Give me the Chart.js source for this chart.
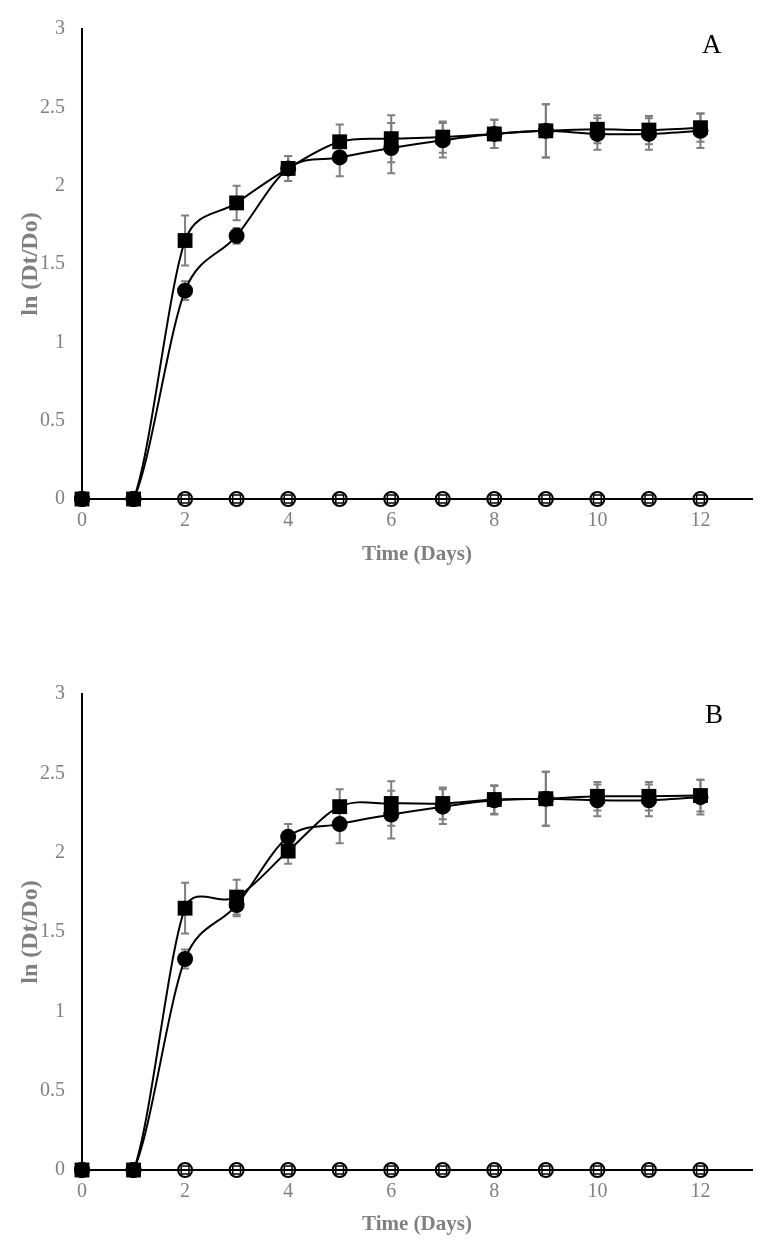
<!DOCTYPE html>
<html lang="en">
<head>
    <meta charset="UTF-8">
    <title>ln (Dt/Do) growth curves</title>
    <script src="https://cdn.jsdelivr.net/npm/chart.js"></script>
    <style>
        body { margin: 0; background: #fff; }
        .panel { position: absolute; left: 0; width: 775px; }
        .tag { position: absolute; font-family: "Liberation Serif", serif; font-size: 27px; color: #000; }
    </style>
</head>
<body>
    <div class="panel" style="top:0; height:600px;">
        <canvas id="chartA"></canvas>
    </div>
    <div class="tag" style="left:702px; top:29px;">A</div>

    <div class="panel" style="top:600px; height:655px;">
        <canvas id="chartB"></canvas>
    </div>
    <div class="tag" style="left:705px; top:699px;">B</div>

    <script>
        // days sampled
        const days = [0, 1, 2, 3, 4, 5, 6, 7, 8, 9, 10, 11, 12];

        // panel A
        const circleA = [0, 0, 1.33, 1.68, 2.11, 2.18, 2.24, 2.29, 2.33, 2.35, 2.33, 2.33, 2.35];
        const squareA = [0, 0, 1.65, 1.89, 2.11, 2.28, 2.30, 2.31, 2.33, 2.35, 2.36, 2.355, 2.37];
        const circleErrA = [0, 0, 0.06, 0.05, 0.08, 0.12, 0.16, 0.11, 0.09, 0.17, 0.10, 0.10, 0.11];
        const squareErrA = [0, 0, 0.16, 0.11, 0.08, 0.11, 0.15, 0.10, 0.09, 0.17, 0.09, 0.09, 0.09];

        // panel B
        const circleB = [0, 0, 1.33, 1.67, 2.10, 2.18, 2.24, 2.29, 2.33, 2.34, 2.33, 2.33, 2.35];
        const squareB = [0, 0, 1.65, 1.72, 2.01, 2.29, 2.31, 2.31, 2.335, 2.34, 2.355, 2.355, 2.36];
        const circleErrB = [0, 0, 0.06, 0.07, 0.08, 0.12, 0.15, 0.11, 0.09, 0.17, 0.10, 0.10, 0.11];
        const squareErrB = [0, 0, 0.16, 0.11, 0.08, 0.11, 0.14, 0.10, 0.09, 0.17, 0.09, 0.09, 0.10];

        // control series, stay at zero
        const openCircle = [0, 0, 0, 0, 0, 0, 0, 0, 0, 0, 0, 0, 0];
        const openSquare = [0, 0, 0, 0, 0, 0, 0, 0, 0, 0, 0, 0, 0];

        const yTicks = [0, 0.5, 1, 1.5, 2, 2.5, 3];
        const xTicks = [0, 2, 4, 6, 8, 10, 12];

        const greyText = '#808080';
        const serif = '"Liberation Serif", "Times New Roman", serif';

        function pts(values) {
            return values.map((v, i) => ({ x: days[i], y: v }));
        }

        // office style smoothing: 1/6 tangents, limited to half the segment length
        const excelSmooth = {
            id: 'excelSmooth',
            beforeDatasetsDraw(chart) {
                const area = chart.chartArea;
                const clampY = y => Math.min(Math.max(y, area.top), area.bottom);
                const dist = (a, b) => Math.hypot(a.x - b.x, a.y - b.y);
                chart.getSortedVisibleDatasetMetas().forEach(meta => {
                    const line = meta.dataset;
                    if (!line) return;
                    line.updateControlPoints(area, 'x');
                    const p = meta.data;
                    for (let i = 0; i < p.length - 1; i++) {
                        const p0 = p[i - 1] || p[i], p1 = p[i], p2 = p[i + 1], p3 = p[i + 2] || p[i + 1];
                        const d12 = dist(p1, p2), d02 = dist(p0, p2), d13 = dist(p1, p3);
                        let f0 = 1 / 6, f1 = 1 / 6;
                        if (d02 / 6 >= d12 / 2) f0 = d02 ? d12 / 2 / d02 : 0;
                        if (d13 / 6 >= d12 / 2) f1 = d13 ? d12 / 2 / d13 : 0;
                        p1.cp2x = p1.x + (p2.x - p0.x) * f0;
                        p1.cp2y = clampY(p1.y + (p2.y - p0.y) * f0);
                        p2.cp1x = p2.x - (p3.x - p1.x) * f1;
                        p2.cp1y = clampY(p2.y - (p3.y - p1.y) * f1);
                    }
                    delete line._path;
                });
            }
        };

        // grey error bars with caps
        const errorBars = {
            id: 'errorBars',
            beforeDatasetsDraw(chart, args, opts) {
                const ctx = chart.ctx;
                const xs = chart.scales.x, ys = chart.scales.y;
                ctx.save();
                ctx.strokeStyle = '#7f7f7f';
                ctx.lineWidth = 2;
                opts.sets.forEach(set => {
                    set.values.forEach((v, i) => {
                        const e = set.err[i];
                        if (!e) return;
                        const px = xs.getPixelForValue(days[i]);
                        const top = ys.getPixelForValue(v + e);
                        const bot = ys.getPixelForValue(v - e);
                        ctx.beginPath();
                        ctx.moveTo(px, top); ctx.lineTo(px, bot);
                        ctx.moveTo(px - 4, top); ctx.lineTo(px + 4, top);
                        ctx.moveTo(px - 4, bot); ctx.lineTo(px + 4, bot);
                        ctx.stroke();
                    });
                });
                ctx.restore();
            }
        };

        function makeChart(id, circle, square, circleErr, squareErr, topPad, xHeight, xTitlePad) {
            const line = {
                borderColor: '#000',
                borderWidth: 2,
                tension: 0.4,
                clip: false
            };
            return new Chart(document.getElementById(id), {
                type: 'line',
                data: {
                    datasets: [
                        Object.assign({ label: 'square', data: pts(square), pointStyle: 'rect', pointRadius: 10.5,
                            pointBackgroundColor: '#000', pointBorderColor: '#000', pointBorderWidth: 0 }, line),
                        Object.assign({ label: 'circle', data: pts(circle), pointStyle: 'circle', pointRadius: 8,
                            pointBackgroundColor: '#000', pointBorderColor: '#000', pointBorderWidth: 0 }, line),
                        Object.assign({ label: 'open square', data: pts(openSquare), pointStyle: 'rect', pointRadius: 5.5,
                            pointBackgroundColor: 'rgba(0,0,0,0)', pointBorderColor: '#000', pointBorderWidth: 1.5 }, line),
                        Object.assign({ label: 'open circle', data: pts(openCircle), pointStyle: 'circle', pointRadius: 7,
                            pointBackgroundColor: 'rgba(0,0,0,0)', pointBorderColor: '#000', pointBorderWidth: 2 }, line)
                    ]
                },
                options: {
                    responsive: true,
                    maintainAspectRatio: false,
                    animation: false,
                    layout: { padding: { top: topPad, right: 23, left: 0, bottom: 0 } },
                    plugins: {
                        legend: { display: false },
                        tooltip: { enabled: false },
                        errorBars: {
                            sets: [
                                { values: circle, err: circleErr },
                                { values: square, err: squareErr }
                            ]
                        }
                    },
                    scales: {
                        x: {
                            type: 'linear',
                            min: 0,
                            max: 13,
                            afterBuildTicks: s => { s.ticks = xTicks.map(v => ({ value: v })); },
                            afterFit: s => { s.height = xHeight; },
                            grid: { display: false, drawTicks: false },
                            border: { color: '#000', width: 2 },
                            ticks: { color: greyText, font: { family: serif, size: 20 }, padding: 10 },
                            title: {
                                display: true, text: 'Time (Days)', color: greyText,
                                font: { family: serif, size: 21, weight: 'bold' },
                                padding: { top: 0, bottom: xTitlePad }
                            }
                        },
                        y: {
                            min: 0,
                            max: 3,
                            afterBuildTicks: s => { s.ticks = yTicks.map(v => ({ value: v })); },
                            afterFit: s => { s.width = 82; },
                            grid: { display: false, drawTicks: false },
                            border: { color: '#000', width: 2 },
                            ticks: {
                                color: greyText, font: { family: serif, size: 20 }, padding: 17,
                                callback: v => String(v)
                            },
                            title: {
                                display: true, text: 'ln (Dt/Do)', color: greyText,
                                font: { family: serif, size: 24, weight: 'bold' },
                                padding: { top: 16, bottom: 0 }
                            }
                        }
                    }
                },
                plugins: [excelSmooth, errorBars]
            });
        }

        makeChart('chartA', circleA, squareA, circleErrA, squareErrA, 21, 101, 33);
        makeChart('chartB', circleB, squareB, circleErrB, squareErrB, 94, 85, 18);
    </script>
</body>
</html>
